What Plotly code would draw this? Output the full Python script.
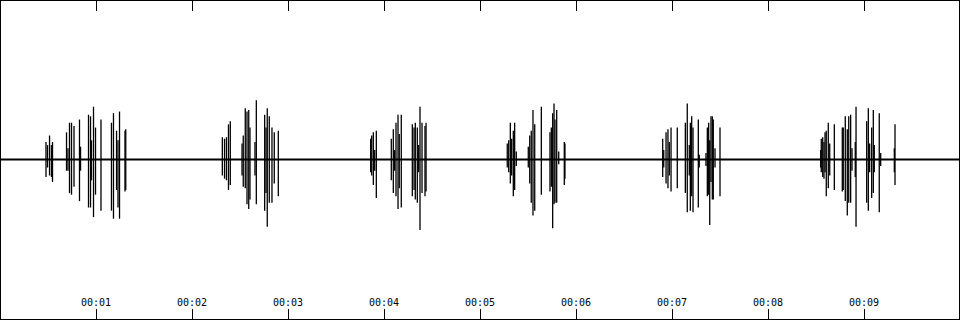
import plotly.graph_objects as go

# Tick positions (seconds) and labels
tick_seconds = [1, 2, 3, 4, 5, 6, 7, 8, 9]
tick_labels = ["00:01", "00:02", "00:03", "00:04", "00:05", "00:06", "00:07", "00:08", "00:09"]

duration = 10.0
noise_floor = 0.0  # baseline level

# Spike times (s) with peak (max) and trough (min) amplitudes, burst by burst
burst1_t = [0.479, 0.495, 0.516, 0.536, 0.547, 0.693, 0.708, 0.724, 0.745, 0.771, 0.828, 0.839,
            0.922, 0.943, 0.953, 0.974, 0.995, 1.052, 1.161, 1.182, 1.214, 1.229, 1.245, 1.302, 1.310]
burst1_max = [0.11, 0.09, 0.15, 0.09, 0.11, 0.17, 0.07, 0.23, 0.23, 0.21, 0.25, 0.08,
              0.28, 0.27, 0.12, 0.33, 0.20, 0.25, 0.23, 0.29, 0.18, 0.12, 0.30, 0.18, 0.19]
burst1_min = [-0.11, -0.05, -0.10, -0.11, -0.14, -0.07, -0.07, -0.21, -0.22, -0.17, -0.26, -0.07,
              -0.30, -0.30, -0.13, -0.36, -0.22, -0.32, -0.32, -0.37, -0.19, -0.30, -0.37, -0.20, -0.19]

burst2_t = [2.316, 2.339, 2.359, 2.380, 2.399, 2.521, 2.534, 2.555, 2.573, 2.591, 2.604, 2.656,
            2.670, 2.757, 2.771, 2.784, 2.805, 2.833, 2.857, 2.899]
burst2_max = [0.14, 0.13, 0.14, 0.22, 0.24, 0.10, 0.15, 0.32, 0.30, 0.31, 0.20, 0.11,
              0.37, 0.28, 0.20, 0.32, 0.27, 0.20, 0.17, 0.18]
burst2_min = [-0.10, -0.12, -0.13, -0.19, -0.16, -0.10, -0.17, -0.18, -0.28, -0.31, -0.25, -0.10,
              -0.28, -0.32, -0.21, -0.42, -0.27, -0.27, -0.15, -0.23]

burst3_t = [3.861, 3.872, 3.889, 3.903, 3.920, 4.076, 4.097, 4.111, 4.125, 4.146, 4.159, 4.180,
            4.295, 4.313, 4.326, 4.347, 4.361, 4.375, 4.396, 4.427, 4.438]
burst3_max = [0.13, 0.15, 0.17, 0.06, 0.18, 0.13, 0.19, 0.06, 0.23, 0.28, 0.16, 0.28,
              0.22, 0.20, 0.23, 0.20, 0.09, 0.33, 0.23, 0.21, 0.23]
burst3_min = [-0.08, -0.10, -0.16, -0.07, -0.24, -0.13, -0.21, -0.07, -0.23, -0.31, -0.18, -0.30,
              -0.23, -0.19, -0.25, -0.27, -0.08, -0.44, -0.21, -0.23, -0.20]

burst4_t = [5.284, 5.299, 5.316, 5.330, 5.347, 5.361, 5.378, 5.503, 5.518, 5.534, 5.552, 5.570,
            5.639, 5.729, 5.743, 5.757, 5.771, 5.781, 5.799, 5.820, 5.878, 5.885]
burst4_max = [0.10, 0.12, 0.23, 0.13, 0.18, 0.23, 0.05, 0.08, 0.15, 0.18, 0.31, 0.22,
              0.33, 0.17, 0.20, 0.29, 0.35, 0.25, 0.31, 0.05, 0.11, 0.10]
burst4_min = [-0.05, -0.08, -0.15, -0.10, -0.23, -0.19, -0.04, -0.05, -0.15, -0.27, -0.35, -0.32,
              -0.22, -0.20, -0.17, -0.43, -0.28, -0.27, -0.27, -0.03, -0.16, -0.12]

burst5_t = [6.903, 6.914, 6.938, 6.958, 6.972, 6.990, 7.055, 7.139, 7.159, 7.180, 7.191, 7.205,
            7.219, 7.274, 7.284, 7.354, 7.368, 7.382, 7.393, 7.406, 7.420, 7.430, 7.448, 7.500]
burst5_max = [0.13, 0.06, 0.17, 0.19, 0.11, 0.20, 0.20, 0.23, 0.35, 0.09, 0.23, 0.27,
              0.20, 0.25, 0.03, 0.04, 0.20, 0.23, 0.12, 0.27, 0.27, 0.25, 0.07, 0.20]
burst5_min = [-0.11, -0.05, -0.15, -0.18, -0.10, -0.20, -0.18, -0.21, -0.33, -0.10, -0.32, -0.23,
              -0.33, -0.30, -0.05, -0.04, -0.23, -0.22, -0.41, -0.14, -0.25, -0.25, -0.05, -0.23]

burst6_t = [8.549, 8.555, 8.570, 8.583, 8.594, 8.607, 8.628, 8.643, 8.691, 8.774, 8.784, 8.805,
            8.826, 8.841, 8.861, 8.875, 8.909, 8.917, 9.028, 9.045, 9.059, 9.080, 9.097, 9.107,
            9.159, 9.174, 9.316, 9.323]
burst6_max = [0.06, 0.13, 0.14, 0.11, 0.17, 0.18, 0.23, 0.10, 0.22, 0.20, 0.20, 0.27,
              0.19, 0.27, 0.28, 0.07, 0.11, 0.33, 0.24, 0.32, 0.10, 0.20, 0.31, 0.09,
              0.29, 0.04, 0.07, 0.22]
burst6_min = [-0.05, -0.08, -0.11, -0.12, -0.08, -0.23, -0.18, -0.10, -0.19, -0.20, -0.19, -0.26,
              -0.35, -0.27, -0.27, -0.07, -0.11, -0.42, -0.27, -0.32, -0.08, -0.24, -0.21, -0.08,
              -0.33, -0.04, -0.08, -0.16]

spike_t = burst1_t + burst2_t + burst3_t + burst4_t + burst5_t + burst6_t
spike_max = burst1_max + burst2_max + burst3_max + burst4_max + burst5_max + burst6_max
spike_min = burst1_min + burst2_min + burst3_min + burst4_min + burst5_min + burst6_min

xs, ys = [], []
for t, hi, lo in zip(spike_t, spike_max, spike_min):
    xs += [t, t, None]
    ys += [hi, lo, None]

fig = go.Figure()
fig.add_trace(go.Scatter(x=[0, duration], y=[noise_floor, noise_floor], mode="lines",
                         line=dict(color="black", width=2), hoverinfo="skip"))
fig.add_trace(go.Scatter(x=xs, y=ys, mode="lines", line=dict(color="black", width=1.3),
                         hoverinfo="skip", connectgaps=False))

fig.update_layout(
    width=960, height=320,
    margin=dict(l=1, r=1, t=1, b=1),
    paper_bgcolor="white", plot_bgcolor="white",
    showlegend=False,
    font=dict(family="DejaVu Sans Mono", size=10, color="black"),
)
fig.update_xaxes(
    range=[0.0104, 9.9896], showgrid=False, zeroline=False,
    showline=True, linecolor="black", linewidth=1, mirror="ticks",
    ticks="inside", ticklen=10, tickwidth=1, tickcolor="black",
    tickvals=tick_seconds, ticktext=tick_labels,
    ticklabelposition="inside", tickfont=dict(family="DejaVu Sans Mono", size=10, color="black"),
)
fig.update_yaxes(
    range=[-0.997, 0.991], showgrid=False, zeroline=False,
    showline=True, linecolor="black", linewidth=1, mirror=True,
    ticks="", showticklabels=False,
)
fig.write_html("out.html", config={"displayModeBar": False})
